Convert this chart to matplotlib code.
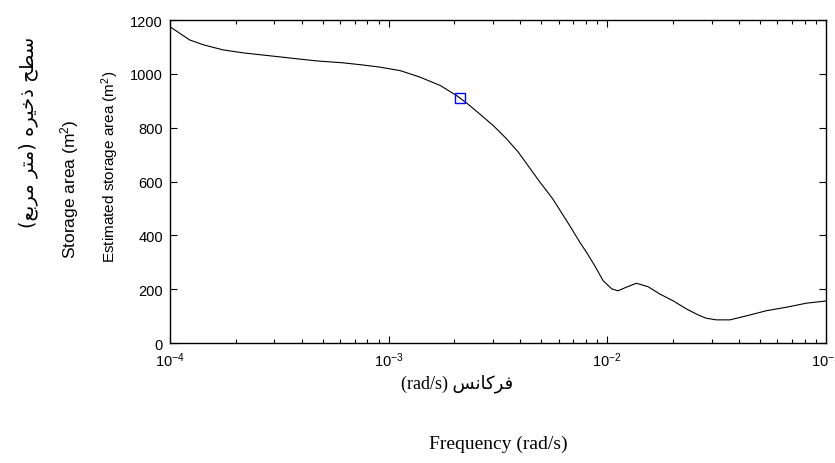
import matplotlib
matplotlib.use('Agg')
import matplotlib.pyplot as plt
from matplotlib.ticker import LogLocator, FixedLocator

# curve: frequency (rad/s) and estimated storage area (m^2)
freq = [1.00e-4, 1.23e-4, 1.42e-4, 1.75e-4, 2.16e-4, 2.87e-4, 3.81e-4, 4.70e-4,
        6.18e-4, 7.62e-4, 9.12e-4, 1.13e-3, 1.39e-3, 1.72e-3, 2.05e-3, 2.28e-3,
        2.61e-3, 3.01e-3, 3.47e-3, 3.92e-3, 4.92e-3, 5.64e-3, 6.75e-3, 7.50e-3,
        8.04e-3, 8.77e-3, 9.57e-3, 1.05e-2, 1.12e-2, 1.22e-2, 1.36e-2, 1.54e-2,
        1.74e-2, 2.00e-2, 2.31e-2, 2.61e-2, 2.84e-2, 3.16e-2, 3.64e-2, 4.34e-2,
        5.35e-2, 6.61e-2, 8.15e-2, 1.00e-1]
area = [1175, 1126, 1108, 1089, 1078, 1067, 1056, 1048,
        1041, 1033, 1025, 1012, 988, 957, 919, 891,
        851, 808, 758, 709, 598, 535, 435, 374,
        337, 287, 232, 201, 194, 207, 222, 209,
        182, 157, 126, 104, 92, 86, 86, 101,
        120, 133, 148, 156]

# the marked point
mark_freq = [2.12e-3]
mark_area = [911]

y_ticks = [0, 200, 400, 600, 800, 1000, 1200]

# matplotlib does no arabic shaping, so pick the presentation forms by hand
FORMS = {
    'ا': (0xFE8D, 0xFE8E, None, None),
    'ب': (0xFE8F, 0xFE90, 0xFE91, 0xFE92),
    'ت': (0xFE95, 0xFE96, 0xFE97, 0xFE98),
    'ح': (0xFEA1, 0xFEA2, 0xFEA3, 0xFEA4),
    'خ': (0xFEA5, 0xFEA6, 0xFEA7, 0xFEA8),
    'ذ': (0xFEAB, 0xFEAC, None, None),
    'ر': (0xFEAD, 0xFEAE, None, None),
    'س': (0xFEB1, 0xFEB2, 0xFEB3, 0xFEB4),
    'ط': (0xFEC1, 0xFEC2, 0xFEC3, 0xFEC4),
    'ع': (0xFEC9, 0xFECA, 0xFECB, 0xFECC),
    'ف': (0xFED1, 0xFED2, 0xFED3, 0xFED4),
    'م': (0xFEE1, 0xFEE2, 0xFEE3, 0xFEE4),
    'ن': (0xFEE5, 0xFEE6, 0xFEE7, 0xFEE8),
    'ه': (0xFEE9, 0xFEEA, 0xFEEB, 0xFEEC),
    'ک': (0xFB8E, 0xFB8F, 0xFB90, 0xFB91),
    'ی': (0xFBFC, 0xFBFD, 0xFBFE, 0xFBFF),
}


def rtl(s):
    out = []
    for i, c in enumerate(s):
        if c not in FORMS:
            out.append({'(': ')', ')': '('}.get(c, c))
            continue
        prev = s[i - 1] if i > 0 else ''
        nxt = s[i + 1] if i + 1 < len(s) else ''
        iso, fin, ini, med = FORMS[c]
        jp = prev in FORMS and FORMS[prev][2] is not None
        jn = nxt in FORMS and ini is not None
        if jp and jn:
            g = med
        elif jp:
            g = fin
        elif jn:
            g = ini
        else:
            g = iso
        out.append(chr(g))
    return ''.join(out[::-1])


plt.rcParams['font.family'] = ['Liberation Sans', 'DejaVu Sans']
plt.rcParams['mathtext.default'] = 'regular'

fig = plt.figure(figsize=(8.35, 4.64), dpi=100)
ax = fig.add_axes([0.2036, 0.2586, 0.7854, 0.6961])

ax.plot(freq, area, color='black', lw=0.8)
ax.plot(mark_freq, mark_area, ls='none', marker='s', ms=7.5, mfc='none',
        mec='#0000ff', mew=1.0)

ax.set_xscale('log')
ax.set_xlim(1e-4, 1e-1)
ax.set_ylim(0, 1200)
ax.yaxis.set_major_locator(FixedLocator(y_ticks))
ax.xaxis.set_major_locator(LogLocator(base=10, numticks=10))
ax.xaxis.set_minor_locator(LogLocator(base=10, subs=range(2, 10), numticks=20))

ax.tick_params(which='both', direction='in', top=True, right=True, labelsize=10.5,
               width=0.8)
ax.tick_params(which='major', length=5)
ax.tick_params(which='minor', length=3)
ax.tick_params(axis='x', which='major', pad=5)
ax.tick_params(axis='y', which='major', pad=5)
for s in ax.spines.values():
    s.set_linewidth(1.0)

fig.text(110 / 835, 1 - 167 / 464, 'Estimated storage area (m$^2$)', rotation=90,
         ha='center', va='center', fontsize=11)
fig.text(70 / 835, 1 - 189 / 464, 'Storage area (m$^2$)', rotation=90,
         ha='center', va='center', fontsize=12.5)
fig.text(28 / 835, 1 - 132 / 464, rtl('سطح ذخیره (متر مربع)'), rotation=90,
         ha='center', va='center', fontsize=14, family=['DejaVu Sans'])
fig.text(457 / 835, 1 - 384 / 464, '(rad/s) ' + rtl('فرکانس'),
         ha='center', va='center', fontsize=13,
         family=['Liberation Serif', 'DejaVu Sans'])
fig.text(498 / 835, 1 - 444 / 464, 'Frequency (rad/s)', ha='center', va='center',
         fontsize=14, family=['Liberation Serif'])

fig.savefig('out.png', dpi=100)
